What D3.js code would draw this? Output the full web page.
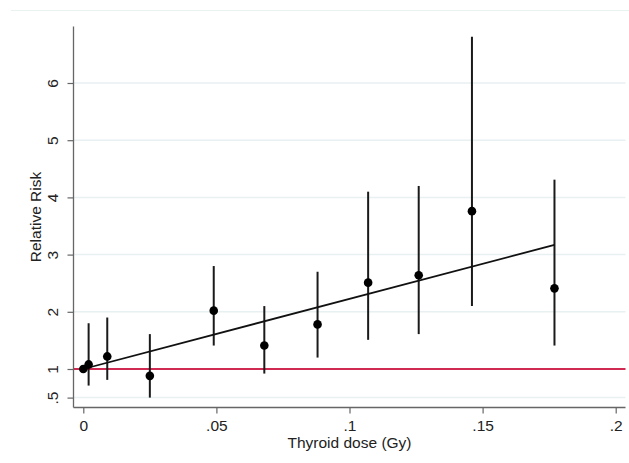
<!DOCTYPE html>
<html>
<head>
<meta charset="utf-8">
<script src="https://cdn.jsdelivr.net/npm/d3@7"></script>
<style>
  html, body { margin: 0; padding: 0; background: #fff; }
  svg { display: block; }
  text { font-family: "Liberation Sans", Arial, sans-serif; fill: #222; }
</style>
</head>
<body>
<svg id="chart" width="629" height="463"></svg>
<script>
// ---- data ----
const doses   = [0, 0.002, 0.009, 0.025, 0.049, 0.068, 0.088, 0.107, 0.126, 0.146, 0.177];
const rr      = [1.00, 1.08, 1.22, 0.88, 2.02, 1.41, 1.78, 2.51, 2.64, 3.76, 2.41];
const ciLow   = [null, 0.71, 0.81, 0.50, 1.41, 0.92, 1.20, 1.51, 1.61, 2.10, 1.41];
const ciHigh  = [null, 1.80, 1.90, 1.61, 2.80, 2.10, 2.70, 4.10, 4.20, 6.81, 4.31];
const fitDose = [0, 0.177];
const fitRR   = [1.00, 3.17];
const refRR   = 1;
const xTicks  = [0, 0.05, 0.1, 0.15, 0.2];
const xTickLabels = ["0", ".05", ".1", ".15", ".2"];
const yTicks  = [0.5, 1, 2, 3, 4, 5, 6];
const yTickLabels = [".5", "1", "2", "3", "4", "5", "6"];
const gridTicks = [0.5, 2, 3, 4, 5, 6];
const xTitle = "Thyroid dose (Gy)";
const yTitle = "Relative Risk";

// ---- layout ----
const FS = 15.5;
const svg = d3.select("#chart");
const plotLeft = 73.5, plotRight = 625.5, plotTop = 26.5, plotBottom = 407.5;

const x = d3.scaleLinear().domain([0, 0.2]).range([83.3, 615.7]);
const y = d3.scaleLinear().domain([1, 6]).range([369, 83]);

// faint top border line
svg.append("line")
  .attr("x1", 11).attr("x2", 629).attr("y1", 10.5).attr("y2", 10.5)
  .attr("stroke", "#eaf1f1").attr("stroke-width", 1.2);

// gridlines
svg.append("g").selectAll("line").data(gridTicks).join("line")
  .attr("x1", plotLeft).attr("x2", plotRight)
  .attr("y1", d => y(d)).attr("y2", d => y(d))
  .attr("stroke", "#e8f0f2").attr("stroke-width", 1.5);

// reference line
svg.append("line")
  .attr("x1", plotLeft).attr("x2", plotRight)
  .attr("y1", y(refRR)).attr("y2", y(refRR))
  .attr("stroke", "#d02a52").attr("stroke-width", 2);

// y axis
const yAxis = d3.axisLeft(y).tickValues(yTicks)
  .tickFormat((d, i) => yTickLabels[i]).tickSize(6).tickSizeOuter(0);
const gy = svg.append("g").attr("transform", `translate(${plotLeft},0)`).call(yAxis);
gy.attr("font-size", FS).attr("font-family", null);
gy.select(".domain").remove();
gy.selectAll(".tick line").attr("stroke", "#666").attr("stroke-width", 1.2);
gy.selectAll(".tick text")
  .attr("fill", "#222")
  .attr("text-anchor", "middle")
  .attr("transform", "translate(-21,0) rotate(-90)")
  .attr("x", 0).attr("y", 0).attr("dy", "0.35em");
svg.append("line")
  .attr("x1", plotLeft).attr("x2", plotLeft)
  .attr("y1", plotTop).attr("y2", plotBottom)
  .attr("stroke", "#666").attr("stroke-width", 1.3);

// x axis
const xAxis = d3.axisBottom(x).tickValues(xTicks)
  .tickFormat((d, i) => xTickLabels[i]).tickSize(6).tickSizeOuter(0);
const gx = svg.append("g").attr("transform", `translate(0,${plotBottom})`).call(xAxis);
gx.attr("font-size", FS).attr("font-family", null);
gx.select(".domain").remove();
gx.selectAll(".tick line").attr("stroke", "#666").attr("stroke-width", 1.2);
gx.selectAll(".tick text").attr("fill", "#222").attr("y", 12).attr("dy", "0.71em");
svg.append("line")
  .attr("x1", plotLeft).attr("x2", plotRight)
  .attr("y1", plotBottom).attr("y2", plotBottom)
  .attr("stroke", "#666").attr("stroke-width", 1.3);

// axis titles
svg.append("text").attr("x", (plotLeft + plotRight) / 2).attr("y", 447.5)
  .attr("text-anchor", "middle").attr("font-size", FS).text(xTitle);
svg.append("text")
  .attr("transform", `translate(41,${(plotTop + plotBottom) / 2}) rotate(-90)`)
  .attr("text-anchor", "middle").attr("font-size", FS).text(yTitle);

// error bars
const pts = doses.map((d, i) => ({d, rr: rr[i], lo: ciLow[i], hi: ciHigh[i]}));
svg.append("g").selectAll("line").data(pts.filter(p => p.lo !== null)).join("line")
  .attr("x1", p => x(p.d)).attr("x2", p => x(p.d))
  .attr("y1", p => y(p.lo)).attr("y2", p => y(p.hi))
  .attr("stroke", "#1a1a1a").attr("stroke-width", 2);

// fit line
const fit = fitDose.map((d, i) => [d, fitRR[i]]);
svg.append("path").datum(fit)
  .attr("d", d3.line().x(p => x(p[0])).y(p => y(p[1])))
  .attr("fill", "none").attr("stroke", "#111").attr("stroke-width", 1.8);

// points
svg.append("g").selectAll("circle").data(pts).join("circle")
  .attr("cx", p => x(p.d)).attr("cy", p => y(p.rr)).attr("r", 4.3)
  .attr("fill", "#000");
</script>
</body>
</html>
